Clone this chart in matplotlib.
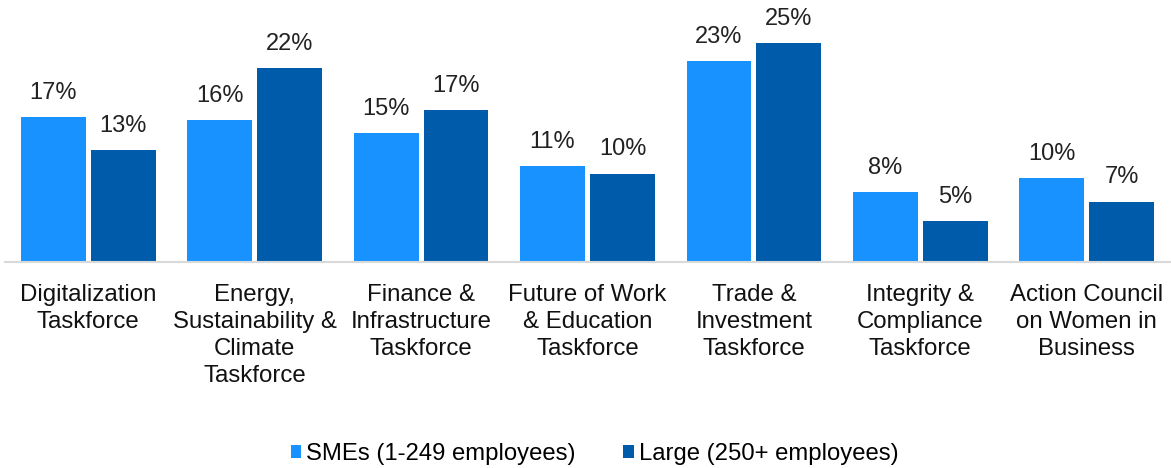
import matplotlib.pyplot as plt
import numpy as np

# DATA
categories = ["Digitalization\nTaskforce", "Energy,\nSustainability &\nClimate\nTaskforce",
              "Finance &\nInfrastructure\nTaskforce", "Future of Work\n& Education\nTaskforce",
              "Trade &\nInvestment\nTaskforce", "Integrity &\nCompliance\nTaskforce",
              "Action Council\non Women in\nBusiness"]
# bar heights (labels are the rounded values)
smes = [16.6, 16.2, 14.7, 11.0, 23.0, 8.0, 9.6]
large = [12.8, 22.2, 17.4, 10.1, 25.0, 4.7, 6.9]
smes_labels = ["17%", "16%", "15%", "11%", "23%", "8%", "10%"]
large_labels = ["13%", "22%", "17%", "10%", "25%", "5%", "7%"]
series_names = ["SMEs (1-249 employees)", "Large (250+ employees)"]

plt.rcParams['font.family'] = ['Liberation Sans', 'DejaVu Sans']

fig = plt.figure(figsize=(11.71, 4.68), dpi=100)
ax = fig.add_axes([5 / 1171, 1 - 262 / 468, 1165 / 1171, 252 / 468])

x = np.arange(len(categories))
w = 0.39
off = 0.21
b1 = ax.bar(x - off, smes, w, color="#1892FF", label=series_names[0])
b2 = ax.bar(x + off, large, w, color="#005BAA", label=series_names[1])

ax.bar_label(b1, labels=smes_labels, padding=9.5, fontsize=17, color="#222222")
ax.bar_label(b2, labels=large_labels, padding=9.5, fontsize=17, color="#222222")

ax.set_xlim(-0.5, len(categories) - 0.5)
ax.set_ylim(0, 28.8)
ax.set_yticks([])
ax.set_xticks(x)
ax.set_xticklabels(categories, fontsize=17.3, color="#111111", linespacing=1.28)
ax.tick_params(axis="x", length=0, pad=16)
for s in ["top", "right", "left"]:
    ax.spines[s].set_visible(False)
ax.spines["bottom"].set_color("#d9d9d9")
ax.spines["bottom"].set_linewidth(1.5)

fig.legend(loc="center", bbox_to_anchor=(0.5 + 9 / 1171, 1 - 454 / 468), ncol=2, frameon=False,
           fontsize=17.2, handlelength=0.45, handleheight=0.45, handletextpad=0.2,
           columnspacing=2.0)

fig.savefig("out.png", dpi=100)
